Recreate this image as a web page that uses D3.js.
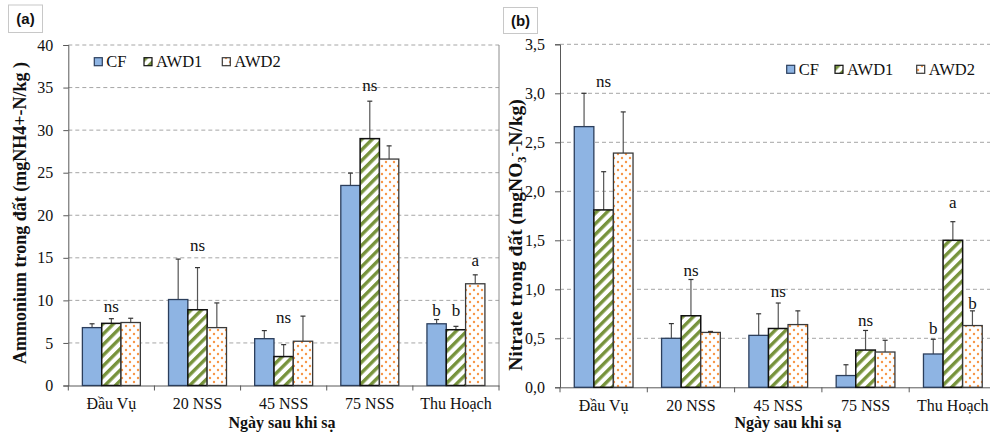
<!DOCTYPE html>
<html><head><meta charset="utf-8">
<script src="https://cdn.jsdelivr.net/npm/d3@7"></script>
<style>body{margin:0;background:#fff} svg{display:block}</style>
</head><body>
<svg id="chart" width="990" height="435"></svg>
<script>
// ---------- DATA ----------
const categories = ["Đầu Vụ", "20 NSS", "45 NSS", "75 NSS", "Thu Hoạch"];
const seriesNames = ["CF", "AWD1", "AWD2"];

// Panel (a) Ammonium (mgNH4+-N/kg)
const ammoniumCF   = [6.8, 10.1, 5.5, 23.5, 7.25];
const ammoniumAWD1 = [7.3, 8.9, 3.4, 29.0, 6.55];
const ammoniumAWD2 = [7.4, 6.8, 5.2, 26.6, 11.95];
const ammoniumErrCF   = [0.45, 4.75, 0.95, 1.45, 0.5];
const ammoniumErrAWD1 = [0.55, 4.95, 1.4, 4.4, 0.4];
const ammoniumErrAWD2 = [0.5, 2.9, 2.95, 1.55, 1.05];
const ammoniumTicks = [0, 5, 10, 15, 20, 25, 30, 35, 40];
const ammoniumLabels = [
  {category: "Đầu Vụ", series: null, text: "ns", value: 8.6},
  {category: "20 NSS", series: null, text: "ns", value: 15.8},
  {category: "45 NSS", series: null, text: "ns", value: 7.3},
  {category: "75 NSS", series: null, text: "ns", value: 34.6},
  {category: "Thu Hoạch", series: "CF", text: "b", value: 8.2},
  {category: "Thu Hoạch", series: "AWD1", text: "b", value: 8.2},
  {category: "Thu Hoạch", series: "AWD2", text: "a", value: 14.0}
];

// Panel (b) Nitrate (mgNO3--N/kg)
const nitrateCF   = [2.66, 0.50, 0.53, 0.12, 0.34];
const nitrateAWD1 = [1.81, 0.73, 0.60, 0.38, 1.50];
const nitrateAWD2 = [2.39, 0.56, 0.64, 0.36, 0.63];
const nitrateErrCF   = [0.34, 0.15, 0.22, 0.11, 0.15];
const nitrateErrAWD1 = [0.39, 0.37, 0.26, 0.20, 0.19];
const nitrateErrAWD2 = [0.42, 0.01, 0.14, 0.12, 0.15];
const nitrateTicks = [0, 0.5, 1.0, 1.5, 2.0, 2.5, 3.0, 3.5];
const nitrateLabels = [
  {category: "Đầu Vụ", series: null, text: "ns", value: 3.065},
  {category: "20 NSS", series: null, text: "ns", value: 1.14},
  {category: "45 NSS", series: null, text: "ns", value: 0.92},
  {category: "75 NSS", series: null, text: "ns", value: 0.63},
  {category: "Thu Hoạch", series: "CF", text: "b", value: 0.54},
  {category: "Thu Hoạch", series: "AWD1", text: "a", value: 1.83},
  {category: "Thu Hoạch", series: "AWD2", text: "b", value: 0.80}
];

const xTitle = "Ngày sau khi sạ";

// ---------- DRAWING ----------
const SERIF = "'Liberation Serif','Times New Roman',serif";
const svg = d3.select("#chart");
const defs = svg.append("defs");

const stripe = defs.append("pattern").attr("id", "stripes")
  .attr("patternUnits", "userSpaceOnUse").attr("width", 7.5).attr("height", 7.5)
  .attr("patternTransform", "rotate(45)");
stripe.append("rect").attr("width", 7.5).attr("height", 7.5).attr("fill", "#fff");
stripe.append("rect").attr("width", 3.4).attr("height", 7.5).attr("fill", "#77933C");

const dots = defs.append("pattern").attr("id", "dots")
  .attr("patternUnits", "userSpaceOnUse").attr("width", 8).attr("height", 8);
dots.append("rect").attr("width", 8).attr("height", 8).attr("fill", "#fff");
dots.append("circle").attr("cx", 2).attr("cy", 2).attr("r", 1.2).attr("fill", "#F79646");
dots.append("circle").attr("cx", 6).attr("cy", 6).attr("r", 1.2).attr("fill", "#F79646");

const seriesStyle = {
  CF:   {fill: "#8EB4E3", stroke: "#2B3E5C", sw: 1.3},
  AWD1: {fill: "url(#stripes)", stroke: "#111", sw: 1.5},
  AWD2: {fill: "url(#dots)", stroke: "#3a3a3a", sw: 1.3}
};

function drawPanel(cfg) {
  const g = svg.append("g");
  const x = d3.scaleBand().domain(categories).range([cfg.left, cfg.right])
    .paddingInner(0.327).paddingOuter(0.1635);
  const xs = d3.scaleBand().domain(seriesNames).range([0, x.bandwidth()]);
  const y = d3.scaleLinear().domain([cfg.ticks[0], cfg.ticks[cfg.ticks.length - 1]])
    .range([cfg.bottom, cfg.top]);

  // gridlines
  g.append("g").selectAll("line").data(cfg.ticks.filter(t => t > 0)).join("line")
    .attr("x1", cfg.left).attr("x2", cfg.right)
    .attr("y1", d => y(d)).attr("y2", d => y(d))
    .attr("stroke", "#A6A6A6").attr("stroke-width", 1).attr("stroke-dasharray", "4,3");

  if (cfg.rightBorder) {
    g.append("line").attr("x1", cfg.right).attr("x2", cfg.right)
      .attr("y1", cfg.top).attr("y2", cfg.bottom)
      .attr("stroke", "#8c8c8c").attr("stroke-width", 1);
  }

  // y axis
  const ya = g.append("g").attr("transform", `translate(${cfg.left},0)`)
    .call(d3.axisLeft(y).tickValues(cfg.ticks).tickSize(5).tickPadding(10).tickFormat(cfg.fmt));
  ya.select(".domain").attr("stroke", "#595959");
  ya.selectAll(".tick line").attr("stroke", "#595959");
  ya.selectAll("text").attr("font-family", SERIF).attr("font-size", 16).attr("fill", "#111");

  // x axis
  const xa = g.append("g").attr("transform", `translate(0,${cfg.bottom})`)
    .call(d3.axisBottom(x).tickSize(0).tickPadding(12));
  xa.select(".domain").attr("stroke", "#595959");
  xa.selectAll("text").attr("font-family", SERIF).attr("font-size", 16).attr("fill", "#111");
  const bounds = d3.range(categories.length + 1).map(i => cfg.left + i * x.step());
  g.append("g").selectAll("line").data(bounds).join("line")
    .attr("x1", d => d).attr("x2", d => d)
    .attr("y1", cfg.bottom).attr("y2", cfg.bottom + 5)
    .attr("stroke", "#595959");

  // bars
  seriesNames.forEach((s, si) => {
    const vals = cfg.values[si], errs = cfg.errors[si], st = seriesStyle[s];
    const bg = g.append("g");
    bg.selectAll("line.err").data(categories).join("line")
      .attr("x1", (c) => x(c) + xs(s) + xs.bandwidth() / 2)
      .attr("x2", (c) => x(c) + xs(s) + xs.bandwidth() / 2)
      .attr("y1", (c, i) => y(vals[i])).attr("y2", (c, i) => y(vals[i] + errs[i]))
      .attr("stroke", "#555").attr("stroke-width", 1.2);
    bg.selectAll("line.cap").data(categories).join("line")
      .attr("x1", (c) => x(c) + xs(s) + xs.bandwidth() / 2 - 2.5)
      .attr("x2", (c) => x(c) + xs(s) + xs.bandwidth() / 2 + 2.5)
      .attr("y1", (c, i) => y(vals[i] + errs[i])).attr("y2", (c, i) => y(vals[i] + errs[i]))
      .attr("stroke", "#333").attr("stroke-width", 1.2);
    bg.selectAll("rect").data(categories).join("rect")
      .attr("x", c => x(c) + xs(s))
      .attr("y", (c, i) => y(vals[i]))
      .attr("width", xs.bandwidth())
      .attr("height", (c, i) => y(0) - y(vals[i]))
      .attr("fill", st.fill).attr("stroke", st.stroke).attr("stroke-width", st.sw);
  });

  // significance labels
  g.append("g").selectAll("text").data(cfg.labels).join("text")
    .attr("x", d => d.series ? x(d.category) + xs(d.series) + xs.bandwidth() / 2
                             : x(d.category) + x.bandwidth() / 2)
    .attr("y", d => y(d.value))
    .attr("text-anchor", "middle")
    .attr("font-family", SERIF).attr("font-size", 17).attr("fill", "#111")
    .text(d => d.text);

  // legend
  const lg = g.append("g");
  seriesNames.forEach((s, i) => {
    const st = seriesStyle[s];
    const sx = cfg.legendX[i];
    lg.append("rect").attr("x", sx).attr("y", cfg.legendY - 4).attr("width", 8).attr("height", 8)
      .attr("fill", st.fill).attr("stroke", st.stroke).attr("stroke-width", 1.2);
    lg.append("text").attr("x", sx + 12).attr("y", cfg.legendY).attr("dy", "0.35em")
      .attr("font-family", SERIF).attr("font-size", 16.5).attr("fill", "#111").text(s);
  });

  // x title
  g.append("text").attr("x", cfg.xTitleX).attr("y", 428).attr("text-anchor", "middle")
    .attr("font-family", SERIF).attr("font-weight", "bold").attr("font-size", 16)
    .attr("fill", "#111").text(xTitle);

  // panel tag
  g.append("rect").attr("x", cfg.tag.x).attr("y", cfg.tag.y).attr("width", cfg.tag.w).attr("height", cfg.tag.h)
    .attr("fill", "#fff").attr("stroke", "#C8C8C8");
  g.append("text").attr("x", cfg.tag.x + cfg.tag.w / 2).attr("y", cfg.tag.y + cfg.tag.h / 2)
    .attr("dy", "0.35em").attr("text-anchor", "middle")
    .attr("font-family", "'Liberation Sans',Arial,sans-serif").attr("font-weight", "bold")
    .attr("font-size", 15).attr("fill", "#111").text(cfg.tag.text);

  return g;
}

const gA = drawPanel({
  left: 68.3, right: 499, top: 45, bottom: 385.5,
  ticks: ammoniumTicks, fmt: d3.format("d"),
  values: [ammoniumCF, ammoniumAWD1, ammoniumAWD2],
  errors: [ammoniumErrCF, ammoniumErrAWD1, ammoniumErrAWD2],
  labels: ammoniumLabels,
  legendX: [94.3, 144, 222.3], legendY: 61.7,
  xTitleX: 282, rightBorder: true,
  tag: {x: 8.5, y: 5, w: 34, h: 27.5, text: "(a)"}
});
// y title (a)
gA.append("text").attr("transform", "translate(26,213) rotate(-90)")
  .attr("text-anchor", "middle").attr("font-family", SERIF).attr("font-weight", "bold")
  .attr("font-size", 18).attr("fill", "#111").text("Ammonium trong đất (mgNH4+-N/kg )");

const gB = drawPanel({
  left: 560, right: 996.5, top: 44.3, bottom: 387.3,
  ticks: nitrateTicks, fmt: d => d3.format(".1f")(d).replace(".", ","),
  values: [nitrateCF, nitrateAWD1, nitrateAWD2],
  errors: [nitrateErrCF, nitrateErrAWD1, nitrateErrAWD2],
  labels: nitrateLabels,
  legendX: [786.7, 835, 916.7], legendY: 69.3,
  xTitleX: 788, rightBorder: false,
  tag: {x: 503.5, y: 7.5, w: 34, h: 26, text: "(b)"}
});
// y title (b)
const tb = gB.append("text").attr("transform", "translate(521.5,235) rotate(-90)")
  .attr("text-anchor", "middle").attr("font-family", SERIF).attr("font-weight", "bold")
  .attr("font-size", 19.5).attr("fill", "#111");
tb.append("tspan").text("Nitrate trong đất (mgNO");
tb.append("tspan").attr("font-size", 12.5).attr("dy", 4).text("3");
tb.append("tspan").attr("font-size", 12.5).attr("dy", -10).text("-");
tb.append("tspan").attr("dy", 6).text("-N/kg)");
</script>
</body></html>
